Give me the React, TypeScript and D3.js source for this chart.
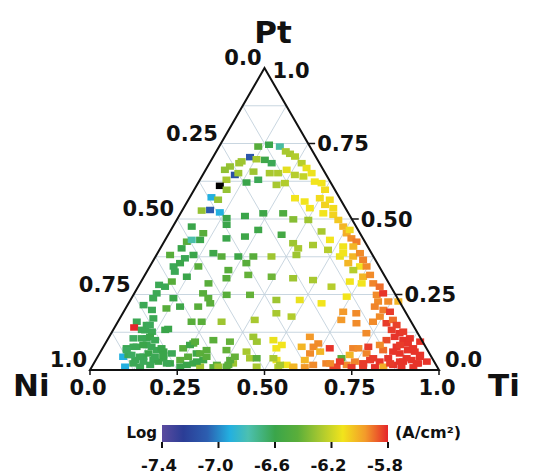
import React from "react";
import * as d3 from "d3";

// each point: [Ti fraction, Pt fraction, log j (A/cm2)]; Ni = 1 - Ti - Pt
const ptRichArc: number[][] = [
  [0.112, 0.740, -6.45], [0.140, 0.746, -6.6], [0.174, 0.740, -6.76], [0.199, 0.724, -6.28],
  [0.106, 0.705, -7.12], [0.089, 0.691, -6.3], [0.128, 0.698, -6.28], [0.153, 0.696, -6.58],
  [0.178, 0.685, -6.62], [0.215, 0.716, -6.28], [0.234, 0.707, -6.26], [0.264, 0.685, -6.25],
  [0.085, 0.685, -6.3], [0.064, 0.674, -6.32],
  [0.055, 0.663, -6.33], [0.092, 0.646, -7.15], [0.076, 0.630, -6.28], [0.099, 0.652, -6.3],
  [0.140, 0.657, -6.3], [0.189, 0.652, -6.28], [0.213, 0.652, -6.27], [0.232, 0.663, -6.15],
  [0.264, 0.646, -6.25], [0.286, 0.669, -6.14], [0.291, 0.641, -6.22], [0.309, 0.652, -6.13],
  [0.067, 0.610, -7.55], [0.138, 0.621, -6.6], [0.167, 0.630, -6.62], [0.228, 0.613, -6.28],
  [0.249, 0.619, -6.26], [0.332, 0.624, -6.12], [0.354, 0.619, -6.12], [0.375, 0.597, -6.1],
  [0.093, 0.597, -6.32],
  [0.062, 0.572, -6.92], [0.085, 0.564, -6.32], [0.303, 0.569, -6.12], [0.336, 0.558, -6.12],
  [0.374, 0.569, -6.1], [0.400, 0.547, -6.08], [0.405, 0.564, -6.1], [0.362, 0.536, -6.12],
  [0.056, 0.528, -6.32], [0.079, 0.530, -7.1], [0.111, 0.522, -6.92], [0.140, 0.503, -6.6],
  [0.189, 0.510, -6.6], [0.237, 0.519, -6.58], [0.294, 0.519, -6.5], [0.333, 0.499, -6.35],
  [0.377, 0.497, -6.3], [0.409, 0.519, -6.12], [0.440, 0.514, -6.08], [0.463, 0.497, -6.06],
  [0.429, 0.536, -6.1],
];

const midBand: number[][] = [
  [0.054, 0.475, -6.6], [0.098, 0.453, -6.45], [0.151, 0.481, -6.6], [0.250, 0.464, -6.58],
  [0.325, 0.448, -6.55], [0.434, 0.459, -6.28], [0.488, 0.475, -6.02], [0.509, 0.453, -6.0],
  [0.512, 0.464, -6.1],
  [0.065, 0.425, -6.45], [0.076, 0.431, -6.78], [0.100, 0.431, -6.6], [0.173, 0.436, -6.6],
  [0.223, 0.442, -6.58], [0.372, 0.420, -6.3], [0.432, 0.414, -6.28], [0.472, 0.431, -6.12],
  [0.531, 0.436, -5.94], [0.551, 0.425, -5.92], [0.550, 0.409, -6.02], [0.521, 0.409, -6.12],
  [0.061, 0.403, -6.6], [0.039, 0.381, -6.45], [0.106, 0.381, -6.6], [0.087, 0.370, -6.62],
  [0.160, 0.387, -6.58], [0.189, 0.376, -6.45], [0.237, 0.376, -6.58], [0.280, 0.376, -6.45],
  [0.332, 0.376, -6.3], [0.401, 0.381, -6.3], [0.395, 0.403, -6.28], [0.483, 0.398, -6.25],
  [0.528, 0.376, -6.14], [0.532, 0.387, -6.12], [0.566, 0.376, -6.02], [0.580, 0.387, -5.94],
  [0.600, 0.365, -5.93],
  [0.068, 0.343, -6.62], [0.081, 0.354, -6.6], [0.080, 0.326, -6.62], [0.139, 0.343, -6.45],
  [0.231, 0.331, -6.45], [0.271, 0.354, -6.45], [0.563, 0.354, -6.02], [0.602, 0.343, -6.12],
  [0.621, 0.343, -5.94], [0.589, 0.331, -6.25],
  [0.057, 0.282, -6.62], [0.077, 0.276, -6.62], [0.088, 0.293, -6.45], [0.123, 0.309, -6.6],
  [0.196, 0.287, -6.45], [0.239, 0.304, -6.45], [0.296, 0.315, -6.42], [0.366, 0.309, -6.4],
  [0.430, 0.304, -6.3], [0.490, 0.298, -6.28], [0.554, 0.276, -6.25], [0.598, 0.293, -6.12],
  [0.628, 0.309, -6.02], [0.645, 0.315, -5.94], [0.668, 0.287, -5.93], [0.692, 0.276, -5.9],
  [0.635, 0.287, -6.12],
];

const lowBand: number[][] = [
  [0.062, 0.238, -6.62], [0.064, 0.254, -6.62], [0.120, 0.238, -6.6], [0.197, 0.254, -6.45],
  [0.220, 0.238, -6.44], [0.267, 0.249, -6.45], [0.334, 0.249, -6.42], [0.418, 0.232, -6.3],
  [0.485, 0.232, -6.14], [0.553, 0.221, -6.12], [0.614, 0.243, -6.12], [0.697, 0.249, -5.94],
  [0.713, 0.254, -5.82], [0.741, 0.227, -5.94], [0.770, 0.227, -6.02], [0.712, 0.227, -5.94],
  [0.046, 0.215, -6.62], [0.078, 0.199, -6.62], [0.117, 0.204, -6.45], [0.153, 0.210, -6.58],
  [0.205, 0.210, -6.45], [0.234, 0.221, -6.44], [0.440, 0.188, -6.28], [0.629, 0.193, -5.96],
  [0.669, 0.188, -5.94], [0.711, 0.210, -5.93], [0.741, 0.199, -5.92], [0.742, 0.177, -5.94],
  [0.763, 0.193, -5.83],
  [0.096, 0.171, -6.62], [0.054, 0.160, -6.62], [0.088, 0.149, -6.62], [0.211, 0.160, -6.45],
  [0.240, 0.160, -6.44], [0.297, 0.160, -6.3], [0.389, 0.166, -6.28], [0.489, 0.177, -6.26],
  [0.637, 0.166, -5.96], [0.731, 0.160, -5.94], [0.772, 0.155, -5.83], [0.785, 0.166, -5.9],
  [0.686, 0.155, -5.94],
  [0.056, 0.141, -5.8], [0.082, 0.133, -6.62], [0.114, 0.127, -6.62], [0.149, 0.133, -6.6],
  [0.110, 0.105, -6.62], [0.413, 0.110, -6.3], [0.575, 0.110, -5.96], [0.731, 0.122, -5.94],
  [0.798, 0.133, -5.83], [0.818, 0.110, -5.82], [0.826, 0.122, -5.82],
];

const baseBand: number[][] = [
  [0.252, 0.088, -6.45], [0.304, 0.099, -6.44], [0.354, 0.094, -6.42], [0.476, 0.099, -6.14],
  [0.610, 0.088, -5.94], [0.651, 0.072, -5.82], [0.848, 0.099, -5.82], [0.800, 0.099, -5.85],
  [0.867, 0.088, -5.82],
  [0.069, 0.072, -6.62], [0.086, 0.077, -6.62], [0.121, 0.083, -6.62], [0.158, 0.066, -6.62],
  [0.180, 0.061, -6.6], [0.231, 0.072, -6.45], [0.278, 0.055, -6.58], [0.301, 0.066, -6.45],
  [0.358, 0.066, -6.42], [0.418, 0.061, -6.28], [0.498, 0.072, -6.12], [0.568, 0.077, -6.02],
  [0.603, 0.055, -5.94], [0.718, 0.072, -5.93], [0.759, 0.077, -5.83], [0.807, 0.066, -5.9],
  [0.840, 0.077, -5.82], [0.878, 0.066, -5.82], [0.900, 0.061, -5.82], [0.860, 0.055, -5.82],
  [0.719, 0.050, -6.02],
  [0.073, 0.044, -6.92], [0.085, 0.050, -6.62], [0.113, 0.033, -6.62], [0.131, 0.044, -6.62],
  [0.165, 0.033, -6.62], [0.191, 0.039, -6.6], [0.218, 0.022, -6.6], [0.242, 0.033, -6.45],
  [0.259, 0.044, -6.45], [0.285, 0.022, -6.58], [0.308, 0.033, -6.58], [0.355, 0.017, -6.44],
  [0.399, 0.022, -6.3], [0.439, 0.039, -6.28], [0.472, 0.011, -6.28], [0.518, 0.033, -6.14],
  [0.555, 0.017, -6.12], [0.599, 0.033, -6.02], [0.631, 0.017, -5.94], [0.666, 0.022, -5.93],
  [0.692, 0.011, -5.84], [0.701, 0.039, -6.45], [0.727, 0.017, -5.94], [0.745, 0.028, -5.93],
  [0.771, 0.022, -5.92], [0.786, 0.033, -5.83], [0.816, 0.028, -5.82], [0.835, 0.039, -5.82],
  [0.860, 0.017, -5.82], [0.883, 0.028, -5.82], [0.905, 0.033, -5.82], [0.929, 0.022, -5.82],
  [0.923, 0.044, -5.82], [0.835, 0.011, -6.0],
  [0.095, 0.011, -6.92], [0.138, 0.011, -6.62], [0.253, 0.011, -6.6], [0.310, 0.011, -6.3],
  [0.349, 0.009, -6.44], [0.386, 0.011, -6.44], [0.535, 0.009, -6.25], [0.578, 0.009, -6.02],
  [0.611, 0.009, -5.96], [0.702, 0.009, -5.84], [0.745, 0.009, -5.83], [0.778, 0.009, -5.83],
  [0.812, 0.009, -5.82], [0.888, 0.009, -5.82], [0.922, 0.009, -5.82],
];

const niCornerPts: number[][] = [
  [0.113, 0.022, -6.62], [0.139, 0.028, -6.63], [0.164, 0.017, -6.62], [0.182, 0.028, -6.6],
  [0.209, 0.022, -6.62], [0.094, 0.050, -6.64], [0.121, 0.044, -6.62], [0.140, 0.055, -6.6],
  [0.164, 0.044, -6.62], [0.185, 0.050, -6.6], [0.207, 0.055, -6.62], [0.072, 0.066, -6.64],
  [0.095, 0.077, -6.62], [0.111, 0.083, -6.6], [0.138, 0.077, -6.62], [0.169, 0.072, -6.6],
  [0.072, 0.105, -6.64], [0.096, 0.105, -6.62], [0.117, 0.110, -6.6], [0.137, 0.099, -6.62],
  [0.092, 0.132, -6.62], [0.097, 0.149, -6.63], [0.156, 0.136, -6.6],
  [0.245, 0.083, -6.58], [0.254, 0.094, -6.45], [0.288, 0.055, -6.44], [0.292, 0.028, -6.6],
  [0.312, 0.044, -6.45], [0.269, 0.017, -6.6], [0.362, 0.011, -6.3], [0.388, 0.017, -6.44],
  [0.385, 0.033, -6.45], [0.393, 0.044, -6.42],
];

const tiCornerPts: number[][] = [
  [0.431, 0.094, -6.3], [0.508, 0.083, -6.12], [0.506, 0.039, -6.28], [0.458, 0.039, -6.45],
  [0.536, 0.017, -6.28], [0.577, 0.011, -6.02],
  [0.602, 0.077, -5.94], [0.629, 0.061, -6.02], [0.733, 0.072, -5.94], [0.765, 0.055, -5.93],
  [0.789, 0.083, -5.94], [0.792, 0.039, -5.83], [0.677, 0.022, -5.94], [0.702, 0.028, -5.83],
  [0.772, 0.022, -5.83],
  [0.838, 0.061, -5.82], [0.847, 0.083, -5.83], [0.888, 0.039, -5.82], [0.890, 0.072, -5.82],
  [0.921, 0.050, -5.82], [0.925, 0.022, -5.82], [0.951, 0.028, -5.82], [0.874, 0.028, -5.82],
  [0.849, 0.022, -5.83], [0.864, 0.105, -5.82], [0.834, 0.127, -5.83], [0.804, 0.149, -5.84],
  [0.899, 0.094, -5.82],
];

const axisTicks = [0, 0.25, 0.5, 0.75, 1];
const axisLabels = ["0.0", "0.25", "0.50", "0.75", "1.0"];
const gridSteps = [0.125, 0.25, 0.375, 0.5, 0.625, 0.75, 0.875];
const cbarTicks = [-7.4, -7.0, -6.6, -6.2, -5.8];
const cmapValues = [-7.4, -7.25, -7.08, -6.92, -6.79, -6.6, -6.44, -6.28, -6.12, -5.96, -5.8];
const cmapColors = ["#5b4b9f", "#2b3d96", "#2c5eb0", "#23b0e0", "#4cc0b0", "#3aa54a",
  "#5aae3a", "#a8c830", "#f2e41c", "#f39a2a", "#e5252a"];

const W = 534, H = 475;
const FONT = "'DejaVu Sans', Verdana, sans-serif";

export default function App() {
  const x = d3.scaleLinear().domain([0, 1]).range([90, 439]);
  const y = d3.scaleLinear().domain([0, 1]).range([370, 68]);
  const pos = (ti: number, pt: number) => [x(ti + pt / 2), y(pt)];
  const color = d3.scaleLinear<string>().domain(cmapValues).range(cmapColors).clamp(true);
  const fillOf = (v: number) => (v < -7.4 ? "#000" : color(v));
  const cx = d3.scaleLinear().domain([-7.4, -5.8]).range([162, 388]);

  const pts = [...ptRichArc, ...midBand, ...lowBand, ...baseBand, ...niCornerPts, ...tiCornerPts];

  const line = d3.line();
  const gridLines: number[][][] = [];
  gridSteps.forEach((v) => {
    gridLines.push([pos(0, v), pos(1 - v, v)]);
    gridLines.push([pos(v, 0), pos(v, 1 - v)]);
    gridLines.push([pos(1 - v, 0), pos(0, 1 - v)]);
  });
  const tri = [pos(0, 0), pos(1, 0), pos(0, 1)];

  const labelStyle = { fontFamily: FONT, fontWeight: 700, fontSize: 21 };

  return (
    <svg width={W} height={H} style={{ position: "absolute", left: 0, top: 0, background: "#fff" }}>
      <defs>
        <linearGradient id="cbar" x1="0" x2="1" y1="0" y2="0">
          {cmapValues.map((v, i) => (
            <stop key={i} offset={(v + 7.4) / 1.6} stopColor={cmapColors[i]} />
          ))}
        </linearGradient>
      </defs>

      <g stroke="#c3d1dd" strokeWidth={0.9} fill="none">
        {gridLines.map((l, i) => <path key={i} d={line(l as any) || ""} />)}
      </g>

      <g>
        {pts.map((d, i) => {
          const [px, py] = pos(d[0], d[1]);
          return <rect key={i} x={px - 4} y={py - 3.2} width={8} height={6.5} fill={fillOf(d[2])} />;
        })}
      </g>

      <path d={line(tri as any)! + "Z"} fill="none" stroke="#111" strokeWidth={2} />

      <g stroke="#111" strokeWidth={1.5}>
        {axisTicks.map((v, i) => (
          <line key={"b" + i} x1={x(v)} x2={x(v)} y1={370} y2={375} />
        ))}
        {axisTicks.slice(1, 4).map((v, i) => {
          const [px, py] = pos(1 - v, v);
          return <line key={"r" + i} x1={px} x2={px + 7} y1={py} y2={py} />;
        })}
      </g>

      <g style={labelStyle} fill="#111">
        {axisTicks.map((v, i) => {
          const [px, py] = pos(0, 1 - v);
          return <text key={"l" + i} x={px - 3} y={py - 3} textAnchor="end">{axisLabels[i]}</text>;
        })}
        {axisTicks.map((v, i) => {
          const [px, py] = pos(1 - v, v);
          const dx = v === 0 ? 6 : v === 1 ? 8 : 9;
          const dy = v === 0 ? -3 : v === 1 ? 10 : 7.5;
          return <text key={"r" + i} x={px + dx} y={py + dy}>{axisLabels[i]}</text>;
        })}
        {axisTicks.map((v, i) => (
          <text key={"b" + i} x={x(v) - 2} y={395} textAnchor="middle">{axisLabels[i]}</text>
        ))}
      </g>

      <g style={{ fontFamily: FONT, fontWeight: 700, fontSize: 31 }} fill="#111">
        <text x={13} y={396}>Ni</text>
        <text x={273} y={43} textAnchor="middle">Pt</text>
        <text x={488} y={396}>Ti</text>
      </g>

      <rect x={cx(-7.4)} y={425} width={cx(-5.8) - cx(-7.4)} height={17} fill="url(#cbar)" />
      <g stroke="#111" strokeWidth={2}>
        {cbarTicks.map((v, i) => <line key={i} x1={cx(v)} x2={cx(v)} y1={442} y2={448} />)}
      </g>
      <g style={{ fontFamily: FONT, fontWeight: 700, fontSize: 16.5 }} fill="#111">
        {cbarTicks.map((v, i) => (
          <text key={i} x={cx(v) - 3} y={471} textAnchor="middle">{v.toFixed(1)}</text>
        ))}
      </g>
      <text x={157} y={438} textAnchor="end" style={{ fontFamily: FONT, fontWeight: 700, fontSize: 15 }} fill="#111">Log</text>
      <text x={395} y={438} style={{ fontFamily: FONT, fontWeight: 700, fontSize: 16 }} fill="#111">(A/cm²)</text>
    </svg>
  );
}
